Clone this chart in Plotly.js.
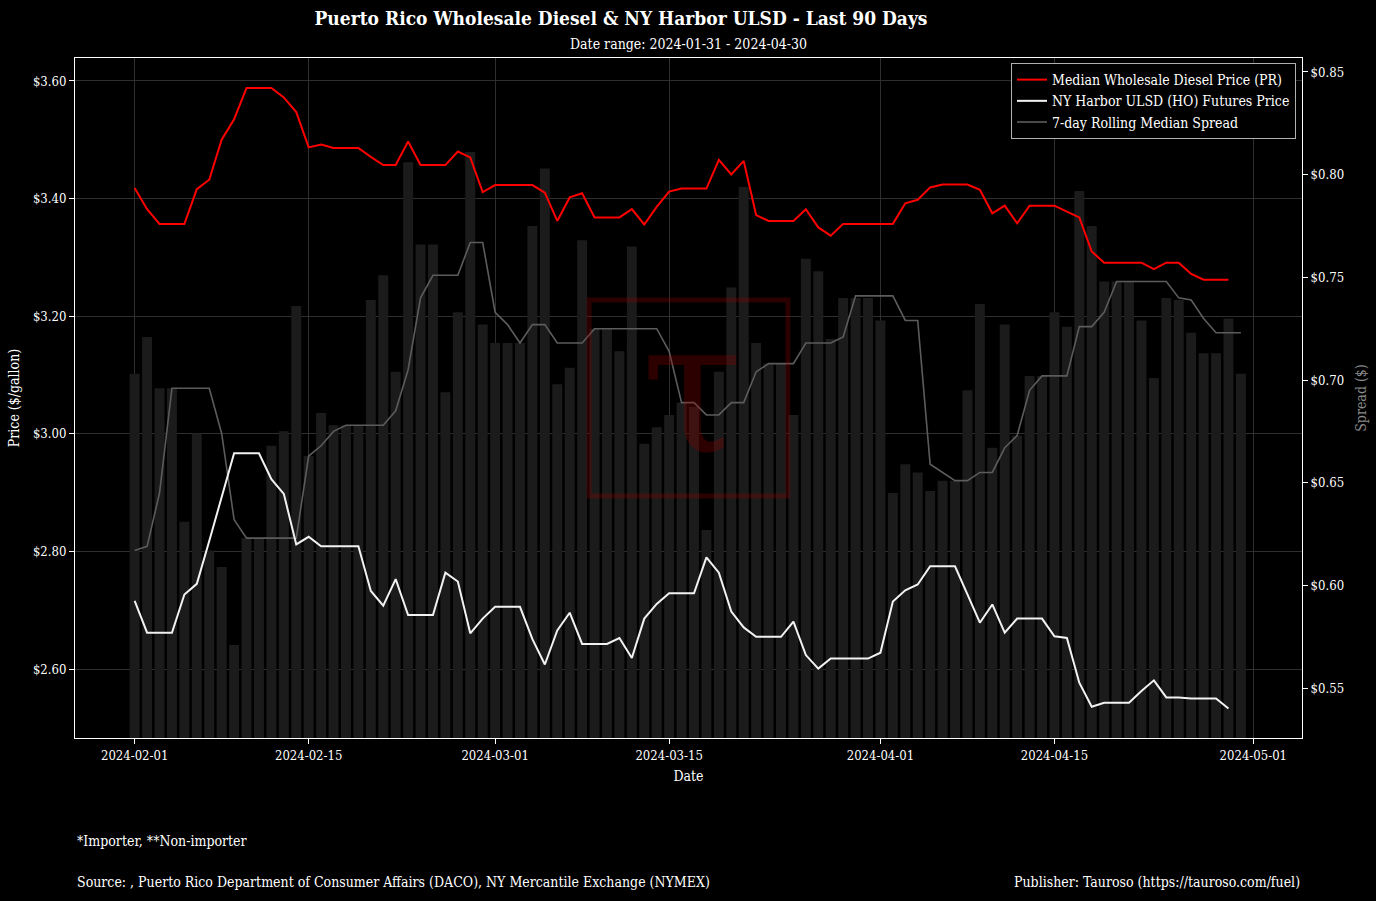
<!DOCTYPE html>
<html>
<head>
<meta charset="utf-8">
<script src="https://cdn.plot.ly/plotly-3.0.1.min.js"></script>
<style>
  html, body { margin: 0; padding: 0; background: #000; }
  #chart { width: 1376px; height: 901px; }
</style>
</head>
<body>
<div id="chart"></div>
<script>
// ---------- DATA ----------
const barDates = [
  "2024-02-01","2024-02-02","2024-02-03","2024-02-04","2024-02-05","2024-02-06","2024-02-07","2024-02-08","2024-02-09","2024-02-10",
  "2024-02-11","2024-02-12","2024-02-13","2024-02-14","2024-02-15","2024-02-16","2024-02-17","2024-02-18","2024-02-19","2024-02-20",
  "2024-02-21","2024-02-22","2024-02-23","2024-02-24","2024-02-25","2024-02-26","2024-02-27","2024-02-28","2024-02-29",
  "2024-03-01","2024-03-02","2024-03-03","2024-03-04","2024-03-05","2024-03-06","2024-03-07","2024-03-08","2024-03-09","2024-03-10",
  "2024-03-11","2024-03-12","2024-03-13","2024-03-14","2024-03-15","2024-03-16","2024-03-17","2024-03-18","2024-03-19","2024-03-20",
  "2024-03-21","2024-03-22","2024-03-23","2024-03-24","2024-03-25","2024-03-26","2024-03-27","2024-03-28","2024-03-29","2024-03-30","2024-03-31",
  "2024-04-01","2024-04-02","2024-04-03","2024-04-04","2024-04-05","2024-04-06","2024-04-07","2024-04-08","2024-04-09","2024-04-10",
  "2024-04-11","2024-04-12","2024-04-13","2024-04-14","2024-04-15","2024-04-16","2024-04-17","2024-04-18","2024-04-19","2024-04-20",
  "2024-04-21","2024-04-22","2024-04-23","2024-04-24","2024-04-25","2024-04-26","2024-04-27","2024-04-28","2024-04-29","2024-04-30"
];
// price series run through 2024-04-29
const priceDates = barDates.slice(0, 89);

const prPrice = [
  3.418,3.382,3.357,3.357,3.357,3.416,3.432,3.500,3.535,3.588,
  3.588,3.588,3.572,3.547,3.487,3.492,3.486,3.486,3.486,3.471,
  3.457,3.457,3.497,3.457,3.457,3.457,3.480,3.470,3.411,
  3.423,3.423,3.423,3.423,3.410,3.362,3.402,3.409,3.368,3.368,
  3.368,3.382,3.356,3.386,3.412,3.417,3.417,3.417,3.466,3.441,
  3.464,3.372,3.362,3.362,3.362,3.382,3.351,3.337,3.357,3.357,3.357,
  3.357,3.357,3.392,3.398,3.419,3.424,3.424,3.424,3.415,3.375,
  3.388,3.358,3.388,3.388,3.388,3.378,3.368,3.310,3.291,3.291,
  3.291,3.291,3.280,3.291,3.291,3.272,3.262,3.262,3.262
];

const hoPrice = [
  2.716,2.662,2.662,2.662,2.727,2.745,2.818,2.892,2.967,2.967,
  2.967,2.923,2.898,2.812,2.825,2.809,2.809,2.809,2.809,2.733,
  2.708,2.753,2.692,2.692,2.692,2.764,2.749,2.661,2.686,
  2.706,2.706,2.706,2.651,2.608,2.666,2.696,2.643,2.643,2.643,
  2.653,2.619,2.686,2.711,2.729,2.729,2.729,2.790,2.764,2.698,
  2.671,2.655,2.655,2.655,2.681,2.624,2.601,2.618,2.618,2.618,2.618,
  2.628,2.715,2.734,2.744,2.775,2.775,2.775,2.727,2.679,2.710,
  2.662,2.686,2.686,2.686,2.656,2.653,2.577,2.536,2.543,2.543,
  2.543,2.563,2.581,2.552,2.552,2.550,2.550,2.550,2.533
];

const dailySpread = [
  0.703,0.721,0.696,0.696,0.631,0.674,0.617,0.609,0.571,0.623,
  0.623,0.668,0.675,0.736,0.663,0.684,0.678,0.678,0.678,0.739,
  0.751,0.704,0.806,0.766,0.766,0.694,0.733,0.811,0.727,
  0.718,0.718,0.718,0.775,0.803,0.698,0.706,0.768,0.725,0.725,
  0.714,0.765,0.669,0.677,0.683,0.689,0.687,0.627,0.704,0.745,
  0.794,0.718,0.708,0.708,0.683,0.759,0.753,0.720,0.740,0.740,0.740,
  0.729,0.645,0.659,0.655,0.646,0.651,0.651,0.695,0.737,0.667,
  0.727,0.673,0.702,0.702,0.733,0.726,0.792,0.775,0.748,0.748,
  0.748,0.729,0.701,0.740,0.739,0.723,0.713,0.713,0.730,0.703
];

const rollingSpread = [
  0.617,0.619,0.645,0.696,0.696,0.696,0.696,0.674,0.632,0.623,
  0.623,0.623,0.623,0.623,0.663,0.668,0.675,0.678,0.678,0.678,
  0.678,0.685,0.705,0.740,0.751,0.751,0.751,0.767,0.767,
  0.733,0.727,0.718,0.727,0.727,0.718,0.718,0.718,0.725,0.725,
  0.725,0.725,0.725,0.725,0.714,0.689,0.689,0.683,0.683,0.689,
  0.689,0.704,0.708,0.708,0.708,0.718,0.718,0.718,0.721,0.741,0.741,
  0.741,0.741,0.729,0.729,0.659,0.655,0.651,0.651,0.655,0.655,
  0.667,0.673,0.695,0.702,0.702,0.702,0.726,0.726,0.733,0.748,
  0.748,0.748,0.748,0.748,0.740,0.739,0.730,0.723,0.723,0.723
];

const xTicks = ["2024-02-01","2024-02-15","2024-03-01","2024-03-15","2024-04-01","2024-04-15","2024-05-01"];
const priceTicks = [2.6, 2.8, 3.0, 3.2, 3.4, 3.6];
const priceTickText = ["$2.60", "$2.80", "$3.00", "$3.20", "$3.40", "$3.60"];
const spreadTicks = [0.55, 0.60, 0.65, 0.70, 0.75, 0.80, 0.85];
const spreadTickText = ["$0.55", "$0.60", "$0.65", "$0.70", "$0.75", "$0.80", "$0.85"];

const seriesNames = [
  "Median Wholesale Diesel Price (PR)",
  "NY Harbor ULSD (HO) Futures Price",
  "7-day Rolling Median Spread"
];

// ---------- STYLE ----------
const FONT = "'DejaVu Serif Condensed', 'DejaVu Serif', serif";
const DAY = 86400000;

const traces = [
  {
    type: "bar", x: barDates, y: dailySpread, yaxis: "y",
    width: 0.8 * DAY, marker: { color: "#1b1b1b", line: { width: 0 } },
    showlegend: false, hoverinfo: "skip"
  },
  {
    type: "scatter", mode: "lines", x: barDates, y: rollingSpread, yaxis: "y",
    name: seriesNames[2], legendrank: 3,
    line: { color: "#5c5c5c", width: 1.6 }
  },
  {
    type: "scatter", mode: "lines", x: priceDates, y: prPrice, yaxis: "y2",
    name: seriesNames[0], legendrank: 1,
    line: { color: "#ff0000", width: 2 }
  },
  {
    type: "scatter", mode: "lines", x: priceDates, y: hoPrice, yaxis: "y2",
    name: seriesNames[1], legendrank: 2,
    line: { color: "#f2f2f2", width: 2 }
  }
];

const layout = {
  width: 1376, height: 901,
  paper_bgcolor: "#000", plot_bgcolor: "#000",
  margin: { l: 75, r: 74, t: 58, b: 163, autoexpand: false },
  font: { family: FONT, color: "#ffffff", size: 14 },
  barmode: "overlay",
  title: {
    text: "<b>Puerto Rico Wholesale Diesel & NY Harbor ULSD - Last 90 Days</b>",
    xref: "container", yref: "container",
    x: 621 / 1376, xanchor: "center",
    y: 1 - 18 / 901, yanchor: "middle",
    font: { family: FONT, size: 19, color: "#ffffff" }
  },
  xaxis: {
    type: "date",
    range: ["2024-01-27 04:48", "2024-05-04 22:00"],
    tickvals: xTicks, ticktext: xTicks,
    showgrid: true, gridcolor: "#2f2f2f", gridwidth: 1,
    showline: true, linecolor: "#ffffff", linewidth: 1, mirror: true,
    ticks: "outside", ticklen: 5, tickcolor: "#ffffff",
    tickfont: { size: 13, color: "#ffffff" },
    zeroline: false, automargin: false,
    title: { text: "Date", standoff: 9, font: { size: 14, color: "#ffffff" } }
  },
  yaxis: {
    side: "right",
    range: [0.5257, 0.8568],
    tickvals: spreadTicks, ticktext: spreadTickText,
    showgrid: false, zeroline: false,
    showline: true, linecolor: "#ffffff", linewidth: 1,
    ticks: "outside", ticklen: 5, tickcolor: "#ffffff",
    tickfont: { size: 13, color: "#ffffff" },
    automargin: false,
    title: { text: "Spread ($)", standoff: 13, font: { size: 14, color: "#8a8a8a" } }
  },
  yaxis2: {
    overlaying: "y", side: "left",
    range: [2.483, 3.639],
    tickvals: priceTicks, ticktext: priceTickText,
    showgrid: true, gridcolor: "#2f2f2f", gridwidth: 1, zeroline: false,
    showline: true, linecolor: "#ffffff", linewidth: 1,
    ticks: "outside", ticklen: 5, tickcolor: "#ffffff",
    tickfont: { size: 13, color: "#ffffff" },
    automargin: false,
    title: { text: "Price ($/gallon)", standoff: 10, font: { size: 14, color: "#ffffff" } }
  },
  legend: {
    x: 0.9951, y: 0.9926, xanchor: "right", yanchor: "top",
    bgcolor: "#000000", bordercolor: "#b0b0b0", borderwidth: 1,
    font: { family: FONT, size: 14, color: "#ffffff" },
    itemwidth: 30, tracegroupgap: 0
  },
  shapes: [
    {
      type: "rect", xref: "paper", yref: "paper", layer: "above",
      x0: 0.4190, x1: 0.5810, y0: 0.356, y1: 0.644,
      line: { color: "rgba(150,0,0,0.28)", width: 5 }, fillcolor: "rgba(0,0,0,0)"
    }
  ],
  annotations: [
    {
      text: "Date range: 2024-01-31 - 2024-04-30",
      xref: "paper", yref: "paper", x: 0.5, y: 1 + 14 / 680,
      xanchor: "center", yanchor: "middle", showarrow: false,
      font: { family: FONT, size: 14, color: "#ffffff" }
    },
    {
      text: "τ",
      xref: "paper", yref: "paper", x: 0.503, y: 0.515,
      xanchor: "center", yanchor: "middle", showarrow: false,
      font: { family: "'DejaVu Serif', serif", size: 185, color: "rgba(150,0,0,0.30)" }
    },
    {
      text: "*Importer, **Non-importer",
      xref: "paper", yref: "paper", x: 0, y: -103 / 680,
      xanchor: "left", yanchor: "middle", showarrow: false,
      font: { family: FONT, size: 14, color: "#ffffff" }
    },
    {
      text: "Source: , Puerto Rico Department of Consumer Affairs (DACO), NY Mercantile Exchange (NYMEX)",
      xref: "paper", yref: "paper", x: 0, y: -144 / 680,
      xanchor: "left", yanchor: "middle", showarrow: false,
      font: { family: FONT, size: 14, color: "#ffffff" }
    },
    {
      text: "Publisher: Tauroso (https://tauroso.com/fuel)",
      xref: "paper", yref: "paper", x: 1, y: -144 / 680,
      xanchor: "right", yanchor: "middle", showarrow: false,
      font: { family: FONT, size: 14, color: "#ffffff" }
    }
  ]
};

Plotly.newPlot("chart", traces, layout, { displayModeBar: false, responsive: false });
</script>
</body>
</html>
